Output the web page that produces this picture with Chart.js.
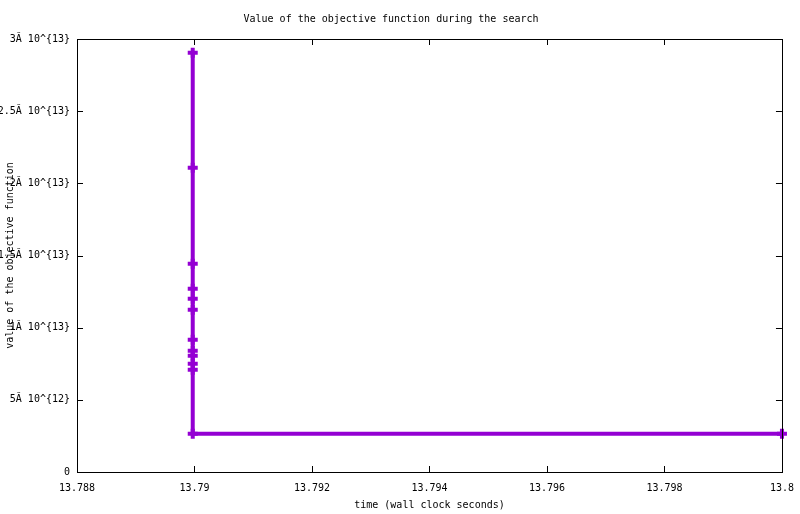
<!DOCTYPE html>
<html><head><meta charset="utf-8">
<script src="https://cdn.jsdelivr.net/npm/chart.js@4/dist/chart.umd.min.js"></script>
<style>html,body{margin:0;padding:0;background:#fff}#wrap{width:800px;height:514px}</style>
</head><body><div id="wrap"><canvas id="c" width="800" height="514"></canvas></div>
<script>
const times = [13.78997,13.78997,13.78997,13.78997,13.78997,13.78997,13.78997,13.78997,13.78997,13.78997,13.78997,13.78997,13.8];
const values = [2.905e13,2.108e13,1.443e13,1.270e13,1.201e13,1.124e13,0.917e13,0.840e13,0.806e13,0.750e13,0.709e13,0.265e13,0.265e13];
const yTickLabels = ['0','5Ă 10^{12}','1Ă 10^{13}','1.5Ă 10^{13}','2Ă 10^{13}','2.5Ă 10^{13}','3Ă 10^{13}'];
const xTickLabels = ['13.788','13.79','13.792','13.794','13.796','13.798','13.8'];

const FONT = {family:'"DejaVu Sans Mono", monospace', size:10, weight:'normal'};

const frame = {
  id:'frame',
  afterDatasetsDraw(chart){
    const {ctx, chartArea:a, scales:{x,y}} = chart;
    ctx.save();
    ctx.strokeStyle='#000'; ctx.lineWidth=1;
    ctx.strokeRect(Math.round(a.left)+0.5, Math.round(a.top)+0.5, Math.round(a.right-a.left), Math.round(a.bottom-a.top));
    ctx.beginPath();
    x.ticks.forEach(t=>{const px=Math.round(x.getPixelForValue(t.value))+0.5;
      ctx.moveTo(px,a.bottom); ctx.lineTo(px,a.bottom-6);
      ctx.moveTo(px,a.top); ctx.lineTo(px,a.top+6);});
    y.ticks.forEach(t=>{const py=Math.round(y.getPixelForValue(t.value))+0.5;
      ctx.moveTo(a.left,py); ctx.lineTo(a.left+6,py);
      ctx.moveTo(a.right,py); ctx.lineTo(a.right-6,py);});
    ctx.stroke();
    ctx.restore();
  }
};

new Chart(document.getElementById('c'), {
  type:'line',
  data:{datasets:[{
    data: times.map((t,i)=>({x:t,y:values[i]})),
    borderColor:'#9400D3', backgroundColor:'#9400D3',
    borderWidth:4, pointStyle:'cross', pointRadius:5, pointBorderWidth:4,
    pointBorderColor:'#9400D3', tension:0, fill:false, clip:false
  }]},
  options:{
    responsive:false, animation:false, devicePixelRatio:1,
    layout:{padding:{left:0,right:18,top:0,bottom:0}},
    plugins:{
      legend:{display:false}, tooltip:{enabled:false},
      title:{display:true, text:'Value of the objective function during the search', color:'#000', font:FONT, padding:{top:13,bottom:14}}
    },
    scales:{
      x:{type:'linear', min:13.788, max:13.8,
        afterBuildTicks(s){s.ticks = xTickLabels.map(v=>({value:parseFloat(v)}));},
        ticks:{color:'#000', font:FONT, padding:6, maxRotation:0, autoSkip:false,
          callback:(v,i)=>xTickLabels[i]},
        grid:{display:false, drawTicks:true, tickLength:4}, border:{display:false},
        title:{display:true, text:'time (wall clock seconds)', color:'#000', font:FONT, padding:{top:0,bottom:3}},
        afterFit(s){s.height=42;}
      },
      y:{type:'linear', min:0, max:3e13,
        afterBuildTicks(s){s.ticks = yTickLabels.map((l,i)=>({value:i*5e12}));},
        ticks:{color:'#000', font:FONT, padding:7, autoSkip:false,
          callback:(v,i)=>yTickLabels[i]},
        grid:{display:false, drawTicks:false}, border:{display:false},
        title:{display:true, text:'value of the objective function', color:'#000', font:FONT, padding:{top:4,bottom:0}},
        afterFit(s){s.width=77;}
      }
    }
  },
  plugins:[frame]
});
</script></body></html>
